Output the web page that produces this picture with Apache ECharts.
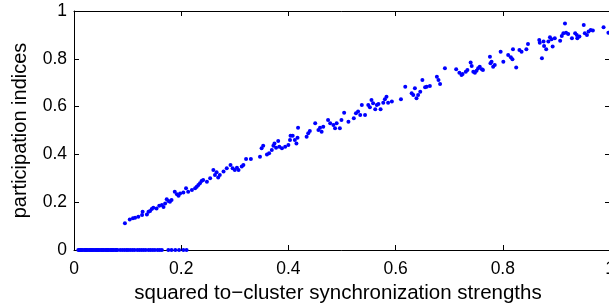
<!DOCTYPE html>
<html>
<head>
<meta charset="utf-8">
<script src="https://cdn.jsdelivr.net/npm/echarts@6/dist/echarts.min.js"></script>
<style>
  html, body { margin: 0; padding: 0; background: #fff; }
  #chart { width: 609px; height: 307px; }
</style>
</head>
<body>
<div id="chart"></div>
<script>
// x ticks / y ticks
var xTicks = [0, 0.2, 0.4, 0.6, 0.8, 1];
var yTicks = [0, 0.2, 0.4, 0.6, 0.8, 1];

// nodes with zero participation (along the bottom axis)
var zeroX = [0.008,0.010,0.012,0.014,0.016,0.019,0.021,0.023,0.025,0.028,0.030,0.032,0.034,0.036,0.039,
  0.041,0.043,0.045,0.047,0.050,0.052,0.054,0.056,0.059,0.061,0.063,0.065,0.068,0.070,0.072,0.074,0.077,
  0.079,0.081,0.086,0.090,0.094,0.098,0.101,0.105,0.109,0.113,0.118,0.122,0.126,0.130,0.134,0.139,0.143,
  0.147,0.151,0.156,0.160,0.164,0.176,0.182,0.189,0.196,0.204,0.210];

// synchronization strength (x) and participation index (y) of the other nodes
var bandX = [0.095,0.104,0.110,0.114,0.120,0.127,0.128,0.136,0.139,0.142,0.145,0.148,0.154,0.159,0.164,
  0.167,0.170,0.173,0.176,0.179,0.182,0.188,0.192,0.195,0.198,0.204,0.209,0.213,0.220,0.226,0.229,0.232,
  0.235,0.238,0.241,0.248,0.254,0.260,0.263,0.266,0.269,0.272,0.279,0.285,
  0.292,0.296,0.300,0.304,0.307,0.313,0.316,0.321,0.330,0.347,0.350,0.353,0.360,0.364,0.369,0.372,0.374,
  0.377,0.381,0.383,0.388,0.394,0.400,0.403,0.404,0.408,0.412,0.415,0.417,0.418,0.434,0.437,0.440,0.450,
  0.456,0.459,0.462,0.465,0.474,0.478,0.484,0.487,0.490,
  0.496,0.499,0.504,0.512,0.522,0.526,0.530,0.534,0.537,0.543,0.549,0.552,0.555,0.558,0.562,0.565,0.568,
  0.572,0.577,0.580,0.583,0.586,0.593,0.610,0.618,0.630,0.633,0.636,0.639,0.642,0.646,0.650,0.655,0.658,
  0.664,0.677,0.680,0.683,
  0.692,0.713,0.719,0.723,0.725,0.731,0.734,0.740,0.742,0.745,0.748,0.751,0.754,0.757,0.761,0.763,0.776,
  0.777,0.779,0.782,0.785,0.796,0.801,0.810,0.815,0.819,0.818,0.825,0.831,0.835,0.844,0.847,0.868,0.869,
  0.873,0.876,0.877,0.881,0.885,0.888,0.891,0.893,0.897,0.907,0.910,0.913,0.916,0.918,0.922,0.929,0.935,
  0.938,0.939,0.943,0.951,0.953,0.957,0.960,0.964,0.968,0.988,0.997];
var bandY = [0.112,0.128,0.133,0.135,0.139,0.146,0.160,0.149,0.160,0.163,0.172,0.177,0.174,0.185,0.188,
  0.180,0.195,0.212,0.205,0.202,0.209,0.244,0.233,0.227,0.236,0.241,0.258,0.244,0.251,0.258,0.265,0.272,
  0.279,0.289,0.293,0.286,0.300,0.335,0.314,0.325,0.303,0.314,0.328,0.342,
  0.356,0.342,0.335,0.344,0.335,0.349,0.356,0.381,0.381,0.390,0.426,0.436,0.400,0.405,0.418,0.436,0.446,
  0.428,0.456,0.432,0.426,0.432,0.439,0.460,0.478,0.478,0.460,0.446,0.470,0.512,0.474,0.488,0.498,0.530,
  0.502,0.512,0.495,0.516,0.544,0.530,0.523,0.509,0.530,
  0.509,0.544,0.574,0.537,0.551,0.572,0.579,0.565,0.607,0.565,0.607,0.597,0.628,0.614,0.589,0.607,0.611,
  0.589,0.616,0.631,0.641,0.616,0.621,0.631,0.683,0.656,0.649,0.677,0.635,0.649,0.662,0.711,0.681,0.683,
  0.686,0.725,0.711,0.695,
  0.760,0.756,0.742,0.732,0.736,0.746,0.753,0.784,0.770,0.746,0.742,0.750,0.760,0.767,0.756,0.753,0.809,
  0.781,0.788,0.767,0.774,0.830,0.788,0.816,0.806,0.840,0.798,0.764,0.837,0.830,0.840,0.862,0.879,0.867,
  0.802,0.872,0.854,0.840,0.872,0.890,0.882,0.851,0.886,0.876,0.895,0.907,0.948,0.909,0.904,0.886,0.907,
  0.900,0.886,0.893,0.941,0.907,0.900,0.914,0.921,0.918,0.932,0.909];

var points = [];
for (var i = 0; i < zeroX.length; i++) points.push([zeroX[i], 0]);
for (var j = 0; j < bandX.length; j++) points.push([bandX[j], bandY[j]]);

var font = 'Liberation Sans, Arial, Helvetica, sans-serif';
var lineStyle = { color: '#000', width: 1 };

function fmt(v) { return v === 0 ? '0' : (v === 1 ? '1' : String(v)); }

var chart = echarts.init(document.getElementById('chart'), null, { renderer: 'canvas' });
chart.setOption({
  animation: false,
  backgroundColor: '#fff',
  grid: { left: 74, top: 11, right: -1, bottom: 57, containLabel: false, outerBoundsMode: 'none' },
  xAxis: [{
    type: 'value', min: 0, max: 1, interval: 0.2,
    name: 'squared to\u2212cluster synchronization strengths',
    nameLocation: 'middle', nameGap: 31,
    nameTextStyle: { fontFamily: font, fontSize: 20.5, color: '#000', padding: [0, 8, 0, 0] },
    axisLine: { show: true, onZero: false, lineStyle: lineStyle },
    axisTick: { show: true, inside: true, length: 5, lineStyle: lineStyle },
    axisLabel: { show: true, margin: 10, fontFamily: font, fontSize: 17.5, color: '#000',
      showMinLabel: true, showMaxLabel: true, hideOverlap: false, formatter: fmt },
    splitLine: { show: false }
  }, {
    type: 'value', min: 0, max: 1, interval: 0.2, position: 'top',
    axisLine: { show: true, onZero: false, lineStyle: lineStyle },
    axisTick: { show: true, inside: true, length: 5, lineStyle: lineStyle },
    axisLabel: { show: false },
    splitLine: { show: false }
  }],
  yAxis: [{
    type: 'value', min: 0, max: 1, interval: 0.2,
    name: 'participation indices',
    nameLocation: 'middle', nameGap: 44,
    nameTextStyle: { fontFamily: font, fontSize: 20, color: '#000' },
    axisLine: { show: true, onZero: false, lineStyle: lineStyle },
    axisTick: { show: true, inside: true, length: 5, lineStyle: lineStyle },
    axisLabel: { show: true, margin: 7, fontFamily: font, fontSize: 17.5, color: '#000',
      showMinLabel: true, showMaxLabel: true, formatter: fmt },
    splitLine: { show: false }
  }, {
    type: 'value', min: 0, max: 1, interval: 0.2, position: 'right',
    axisLine: { show: true, onZero: false, lineStyle: lineStyle },
    axisTick: { show: true, inside: true, length: 5, lineStyle: lineStyle },
    axisLabel: { show: false },
    splitLine: { show: false }
  }],
  series: [{
    type: 'scatter',
    data: points,
    symbol: 'circle',
    symbolSize: 4,
    itemStyle: { color: '#0000ff', opacity: 1 },
    clip: false
  }]
});
</script>
</body>
</html>
